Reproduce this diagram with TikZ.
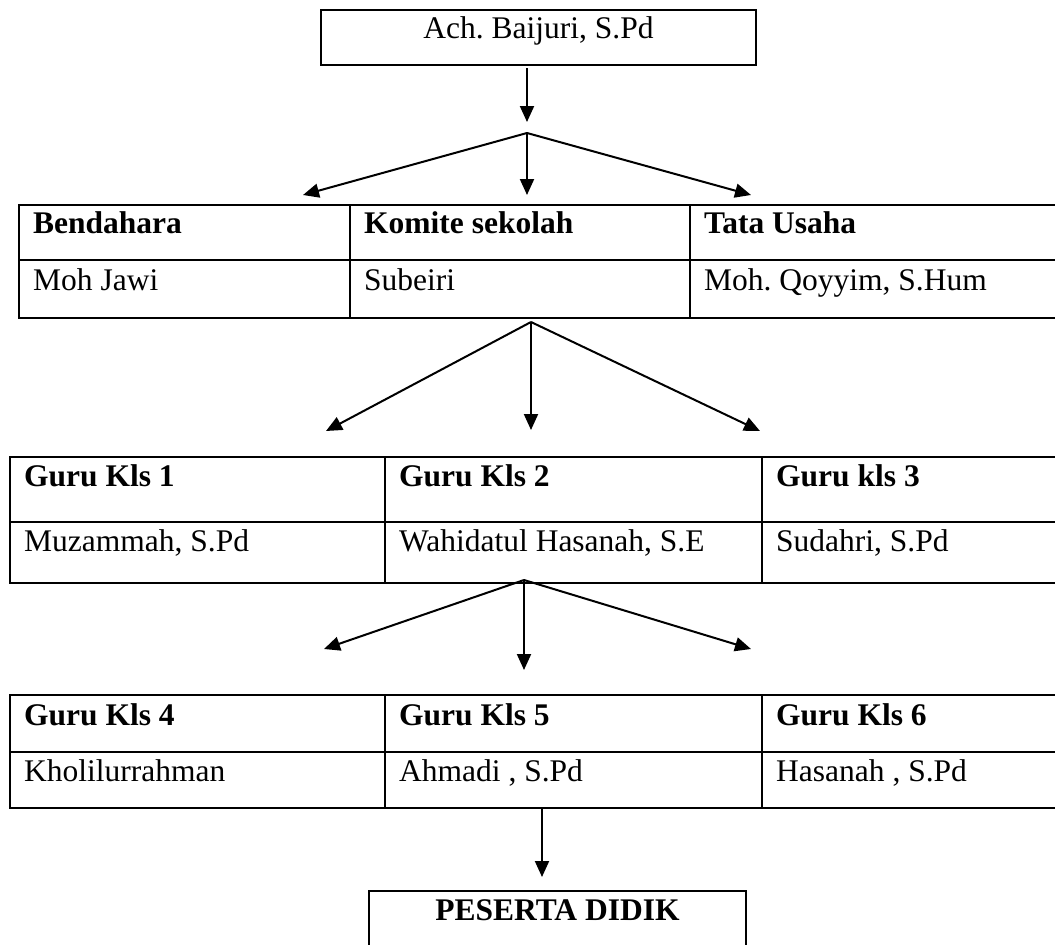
\documentclass[tikz,border=0pt]{standalone}
\usepackage{fontspec}
\setmainfont{Liberation Serif}
\usetikzlibrary{arrows.meta}
\tikzset{
	box/.style={draw=black,line width=2pt,inner sep=0pt,anchor=north west},
	cell/.style={draw=black,line width=1.9pt,inner sep=0pt,anchor=north west},
	txt/.style={inner sep=0pt,anchor=base west},
	arr/.style={black,line width=2pt,-{Triangle[length=16pt,width=14pt]}}
}

\begin{document}
\begin{tikzpicture}[x=1pt,y=-1pt,font=\fontsize{31.5pt}{38pt}\selectfont\frenchspacing]
	\useasboundingbox (0,0) rectangle (1055,945);
	\clip (0,0) rectangle (1055,945);

	\node[box,minimum width=435pt,minimum height=55pt] (kepala) at (320,9) {};
	\node[txt,anchor=base] (kepalaT) at ([yshift=-29pt]kepala.north) {Ach. Baijuri, S.Pd};

	\foreach \i/\x/\w/\head/\name in {1/18/331/Bendahara/Moh Jawi,2/349/340/Komite sekolah/Subeiri,3/689/368/Tata Usaha/{Moh. Qoyyim, S.Hum}}{
		\node[cell,minimum width=\w pt,minimum height=55pt] (staf\i) at (\x,204) {};
		\node[cell,minimum width=\w pt,minimum height=58pt] (stafN\i) at (\x,259) {};
		\node[txt] (stafT\i) at ([shift={(15pt,-29pt)}]staf\i.north west) {\textbf{\head}};
		\node[txt] (stafNT\i) at ([shift={(15pt,-31pt)}]stafN\i.north west) {\name};
	}

	\foreach \i/\x/\w/\head/\name in {1/9/375/Guru Kls 1/{Muzammah, S.Pd},2/384/377/Guru Kls 2/{Wahidatul Hasanah, S.E},3/761/296/Guru kls 3/{Sudahri, S.Pd}}{
		\node[cell,minimum width=\w pt,minimum height=65pt] (guru\i) at (\x,456) {};
		\node[cell,minimum width=\w pt,minimum height=61pt] (guruN\i) at (\x,521) {};
		\node[txt] (guruT\i) at ([shift={(15pt,-30pt)}]guru\i.north west) {\textbf{\head}};
		\node[txt] (guruNT\i) at ([shift={(15pt,-30pt)}]guruN\i.north west) {\name};
	}

	\foreach \i/\x/\w/\head/\name in {4/9/375/Guru Kls 4/Kholilurrahman,5/384/377/Guru Kls 5/{Ahmadi , S.Pd},6/761/296/Guru Kls 6/{Hasanah , S.Pd}}{
		\node[cell,minimum width=\w pt,minimum height=57pt] (guru\i) at (\x,694) {};
		\node[cell,minimum width=\w pt,minimum height=56pt] (guruN\i) at (\x,751) {};
		\node[txt] (guruT\i) at ([shift={(15pt,-31pt)}]guru\i.north west) {\textbf{\head}};
		\node[txt] (guruNT\i) at ([shift={(15pt,-30pt)}]guruN\i.north west) {\name};
	}

	\node[box,minimum width=377pt,minimum height=90pt] (peserta) at (368,890) {};
	\node[txt,anchor=base] (pesertaT) at ([yshift=-30pt]peserta.north) {\textbf{PESERTA DIDIK}};

	\coordinate (j1) at (527,133);
	\coordinate (j2) at (531,322);
	\coordinate (j3) at (524,580);
	\coordinate (j4) at (542,808);
	\coordinate (k1) at (527,122);
	\coordinate (k2) at (542,877);

	\draw[arr] ([yshift=-2pt]kepala.south -| j1) -- (k1);
	\draw[arr] (j4) -- (k2);

	\coordinate (u1) at (303,195);
	\coordinate (u2) at (527,195);
	\coordinate (u3) at (751,195);
	\coordinate (v1) at (326,431);
	\coordinate (v2) at (531,430);
	\coordinate (v3) at (760,431);
	\coordinate (w1) at (324,649);
	\coordinate (w2) at (524,670);
	\coordinate (w3) at (751,649);

	\foreach \j/\t in {1/u,2/v,3/w}
		\foreach \k in {1,2,3}
			\draw[arr] (j\j) -- (\t\k);
\end{tikzpicture}
\end{document}
